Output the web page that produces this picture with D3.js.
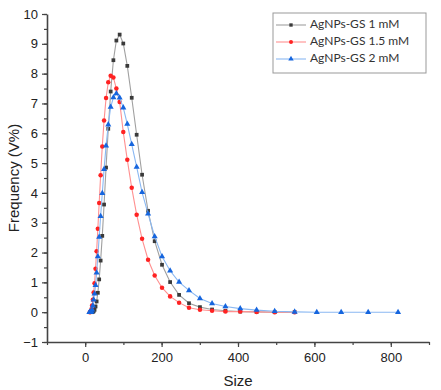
<!DOCTYPE html>
<html lang="en">
<head>
<meta charset="utf-8">
<title>Size distribution</title>
<script src="https://cdn.jsdelivr.net/npm/d3@7"></script>
<style>
  body { margin: 0; background: #fff; }
  svg { display: block; }
</style>
</head>
<body>
<script>

var sizeBins = [8.1, 9.0, 9.9, 11.0, 12.1, 13.4, 14.8, 16.4, 18.1, 20.0,
  22.1, 24.5, 27.1, 29.9, 33.1, 36.6, 40.4, 44.7, 49.4, 54.6,
  60.4, 66.7, 73.8, 81.6, 90.2, 99.7, 110.2, 121.8, 134.7, 148.9,
  164.6, 181.9, 201.1, 222.3, 245.8, 271.7, 300.4, 332.1, 367.1, 405.9,
  448.7, 496.0, 548.3, 606.2, 670.1, 740.8, 819.0]

// frequency (V%) per bin, null = no point
var freq1mM = [null, null, null, null, null, null, null, null, 0.00, 0.01,
  0.03, 0.08, 0.19, 0.36, 0.65, 1.10, 1.73, 2.56, 3.61, 4.85,
  6.15, 7.40, 8.45, 9.11, 9.31, 9.01, 8.26, 7.19, 5.95, 4.61,
  3.40, 2.38, 1.59, 1.01, 0.58, 0.30, 0.17, 0.09, 0.05, 0.02,
  0.01, 0.00, 0.00, null, null, null, null]

var freq15mM = [null, null, null, null, 0.00, 0.01, 0.04, 0.10, 0.22, 0.42,
  0.66, 0.97, 1.46, 2.04, 2.80, 3.66, 4.59, 5.56, 6.43, 7.18,
  7.71, 7.93, 7.87, 7.50, 7.05, 6.04, 5.11, 4.17, 3.27, 2.46,
  1.76, 1.23, 0.82, 0.53, 0.32, 0.15, 0.08, 0.05, 0.02, 0.02,
  0.01, 0.00, 0.00, null, null, null, null]

var freq2mM = [null, null, null, 0.00, 0.00, 0.00, 0.01, 0.02, 0.08, 0.22,
  0.42, 0.62, 0.90, 1.32, 1.87, 2.52, 3.22, 3.99, 4.79, 5.58,
  6.29, 6.88, 7.20, 7.33, 7.19, 6.86, 6.31, 5.63, 4.87, 4.02,
  3.30, 2.54, 1.87, 1.39, 1.01, 0.73, 0.46, 0.29, 0.19, 0.12,
  0.07, 0.03, 0.01, 0.00, 0.00, 0.00, 0.00]

var seriesNames = ["AgNPs-GS 1 mM", "AgNPs-GS 1.5 mM", "AgNPs-GS 2 mM"]
var xTicks = [0, 200, 400, 600, 800]
var yTicks = [-1, 0, 1, 2, 3, 4, 5, 6, 7, 8, 9, 10]

var width = 441, height = 390
// plot edges (window.top is taken, so no "top" here)
var plotLeft = 47, plotRight = 429, plotTop = 14, plotBottom = 342

var svg = d3.select("body").append("svg")
  .attr("width", width)
  .attr("height", height)

var x = d3.scaleLinear().domain([-100, 900]).range([plotLeft, plotRight])
var y = d3.scaleLinear().domain([-1, 10]).range([plotBottom, plotTop])

var axisColor = "#444"

// minor ticks first, majors with labels on top
svg.append("g")
  .attr("transform", "translate(0," + plotBottom + ")")
  .call(d3.axisBottom(x).tickValues(d3.range(-100, 901, 100)).tickSize(3).tickFormat("").tickSizeOuter(0))
  .call(function(g){ g.select(".domain").remove() })
  .selectAll("line").attr("stroke", axisColor).attr("stroke-width", 1.2)

svg.append("g")
  .attr("transform", "translate(" + plotLeft + ",0)")
  .call(d3.axisLeft(y).tickValues(d3.range(-1, 10.01, 0.5)).tickSize(3).tickFormat("").tickSizeOuter(0))
  .call(function(g){ g.select(".domain").remove() })
  .selectAll("line").attr("stroke", axisColor).attr("stroke-width", 1.2)

var xAxis = svg.append("g")
  .attr("transform", "translate(0," + plotBottom + ")")
  .call(d3.axisBottom(x).tickValues(xTicks).tickSize(5).tickSizeOuter(0).tickPadding(6))
xAxis.select(".domain").attr("stroke", axisColor).attr("stroke-width", 1.6)
xAxis.selectAll(".tick line").attr("stroke", axisColor).attr("stroke-width", 1.2)
xAxis.selectAll("text").attr("font-family", "Liberation Sans, Arial, sans-serif").attr("font-size", 13).attr("fill", "#222")

var yAxis = svg.append("g")
  .attr("transform", "translate(" + plotLeft + ",0)")
  .call(d3.axisLeft(y).tickValues(yTicks).tickSize(5).tickSizeOuter(0).tickPadding(4))
yAxis.select(".domain").attr("stroke", axisColor).attr("stroke-width", 1.6)
yAxis.selectAll(".tick line").attr("stroke", axisColor).attr("stroke-width", 1.2)
yAxis.selectAll("text").attr("font-family", "Liberation Sans, Arial, sans-serif").attr("font-size", 13).attr("fill", "#222")

svg.append("text")
  .attr("x", (plotLeft + plotRight) / 2)
  .attr("y", 386)
  .attr("text-anchor", "middle")
  .attr("font-family", "Liberation Sans, Arial, sans-serif")
  .attr("font-size", 15)
  .attr("fill", "#222")
  .text("Size")

svg.append("text")
  .attr("transform", "translate(19," + (plotTop + plotBottom) / 2 + ") rotate(-90)")
  .attr("text-anchor", "middle")
  .attr("font-family", "Liberation Sans, Arial, sans-serif")
  .attr("font-size", 15)
  .attr("fill", "#222")
  .text("Frequency (V%)")

var series = [
  {name: seriesNames[0], values: freq1mM, line: "#a0a0a0", mark: "#3a3a3a", shape: d3.symbolSquare, size: 14},
  {name: seriesNames[1], values: freq15mM, line: "#ff9090", mark: "#f22", shape: d3.symbolCircle, size: 16},
  {name: seriesNames[2], values: freq2mM, line: "#8ab8f2", mark: "#1565de", shape: d3.symbolTriangle, size: 16}
]

var line = d3.line()
  .x(function(d){ return x(d.s) })
  .y(function(d){ return y(d.v) })

series.forEach(function(sr){
  var pts = sizeBins.map(function(s, i){ return {s: s, v: sr.values[i]} })
    .filter(function(d){ return d.v != null })
  var g = svg.append("g")
  g.append("path")
    .datum(pts)
    .attr("fill", "none")
    .attr("stroke", sr.line)
    .attr("stroke-width", 1.1)
    .attr("d", line)
  g.selectAll("path.pt").data(pts).enter().append("path")
    .attr("class", "pt")
    .attr("transform", function(d){ return "translate(" + x(d.s) + "," + y(d.v) + ")" })
    .attr("d", d3.symbol().type(sr.shape).size(sr.size))
    .attr("fill", sr.mark)
})

// legend
var legend = svg.append("g").attr("transform", "translate(273,13)")
legend.append("rect")
  .attr("width", 153).attr("height", 60)
  .attr("fill", "#fff")
  .attr("stroke", "#999")
  .attr("stroke-width", 1)

series.forEach(function(sr, i){
  var ly = 12 + i * 17
  legend.append("line")
    .attr("x1", 3).attr("x2", 33)
    .attr("y1", ly).attr("y2", ly)
    .attr("stroke", sr.line).attr("stroke-width", 1.1)
  legend.append("path")
    .attr("transform", "translate(18," + ly + ")")
    .attr("d", d3.symbol().type(sr.shape).size(sr.size * 0.8))
    .attr("fill", sr.mark)
  legend.append("text")
    .attr("x", 37).attr("y", ly - 1)
    .attr("dy", "0.35em")
    .attr("font-family", "Lato, Open Sans, sans-serif")
    .attr("font-size", 12)
    .attr("fill", "#333")
    .text(sr.name)
})

</script>
</body>
</html>
